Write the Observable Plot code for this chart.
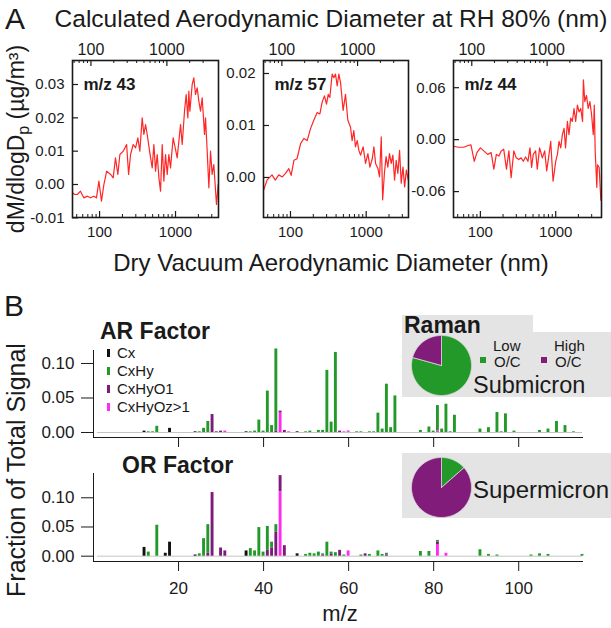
<!DOCTYPE html>
<html><head><meta charset="utf-8">
<script src="https://cdn.jsdelivr.net/npm/d3@7"></script>
<script src="https://cdn.jsdelivr.net/npm/@observablehq/plot@0.6"></script>
<style>
html,body{margin:0;padding:0;background:#fff;}
#chart{position:relative;width:611px;height:628px;overflow:hidden;font-family:"Liberation Sans",Arial,sans-serif;}
#chart svg{position:absolute;left:0;top:0;overflow:visible;}
</style></head><body><div id="chart"></div>
<script>
// ---------- Panel A data (dry vacuum aerodynamic diameter, nm ; dM/dlogDp, µg/m3) ----------
const m43Diam = [44,47,51,56,62,69,76,84,91,98,106,114,124,140,151,162,174,185,205,227,241,256,277,298,319,339,364,383,403,424,455,493,519,546,574,604,635,668,702,739,777,817,859,931,970,1052,1164,1224,1313,1381,1453,1497,1545,1657,1742,1833,1928,2028,2133,2244,2409,2483,2612,2748,2890,3037,3193,3460,3641];
const m43Val  = [-0.0025,-0.003,-0.003,-0.002,-0.004,-0.0035,-0.004,-0.0035,-0.004,0.001,-0.005,0.000,0.004,0.003,0.002,0.008,0.003,0.009,0.010,0.012,0.003,0.009,0.012,0.011,0.014,0.010,0.020,0.015,0.018,0.015,0.010,0.005,0.012,0.004,0.009,0.002,-0.002,0.012,0.001,0.009,0.003,0.009,0.005,0.014,0.012,0.008,0.018,0.012,0.022,0.027,0.020,0.028,0.022,0.030,0.032,0.027,0.029,0.025,0.022,0.026,0.015,0.020,0.010,-0.001,0.010,0.003,0.006,-0.006,0.000];
const m57Diam = [43.5,49,57,63,70,78,86,95,102,111,122,136,150,166,184,203,225,244,262,281,299,315,331,355,373,393,414,435,458,496,533,572,620,652,686,721,760,800,842,912,980,1053,1120,1203,1264,1330,1430,1500,1580,1650,1740,1830,1930,2030,2140,2250,2370,2490,2620,2760,2900,3060,3220,3390,3600];
const m57Val  = [-0.0027,-0.0005,0.0005,-0.0005,0.0005,0.0001,0.0008,0.0017,0.0004,0.0033,0.0036,0.0065,0.0075,0.0071,0.0094,0.011,0.0125,0.0122,0.0145,0.0157,0.0141,0.016,0.0154,0.0199,0.0192,0.0199,0.0176,0.0199,0.0183,0.0129,0.016,0.011,0.0097,0.0071,0.009,0.0059,0.0071,0.0052,0.0043,0.0059,0.0027,0.0046,0.002,0.0036,0.0059,0.0027,0.0017,0.0001,0.0078,-0.0043,0.0008,0.004,0.002,0.0046,0.0027,0.0043,-0.0005,0.0033,0.0008,0.0052,-0.0011,0.002,-0.0018,0.0014,-0.0005];
const m44Diam = [44,51,60,70,75,83,90,100,111,125,139,151,163,176,189,204,222,239,256,278,299,324,348,371,398,428,455,479,503,541,569,611,664,714,759,815,858,922,1000,1053,1106,1166,1225,1290,1350,1430,1500,1580,1660,1750,1840,1940,2040,2150,2270,2330,2430,2560,2700,2840,2990,3150,3250,3340,3510,3580,3770,3970];
const m44Val  = [-0.0076,-0.0088,-0.0088,-0.0065,-0.006,-0.025,-0.015,-0.0095,-0.013,-0.017,-0.015,-0.034,-0.017,-0.019,-0.013,-0.011,-0.034,-0.013,-0.044,-0.013,-0.021,-0.023,-0.021,-0.025,-0.02,-0.025,-0.0095,-0.032,-0.017,-0.013,-0.034,-0.0095,-0.021,-0.013,-0.036,-0.017,-0.002,-0.048,-0.025,-0.017,-0.002,-0.0095,0.0057,0.013,-0.0095,0.021,0.0057,0.025,0.021,0.036,0.021,0.04,0.032,0.036,0.021,0.069,0.044,0.051,0.036,0.044,0.029,0.0057,0.04,-0.013,-0.055,-0.029,-0.032,-0.07];
const m43Ticks = [-0.01,0.00,0.01,0.02,0.03];
const m57Ticks = [0.00,0.01,0.02];
const m44Ticks = [-0.06,0.00,0.06];
const diamTickLabels = [100,1000];
const diamMinor = [50,60,70,80,90,200,300,400,500,600,700,800,900,2000,3000];
const growthFactor = 1.3; // dry -> RH 80% diameter

// ---------- Panel B data ([m/z, fraction of total signal]) ----------
const arCx = [[12,0.002],[18,0.006],[24,0.001],[36,0.001],[48,0.001]];
const arCxHy = [[13,0.001],[14,0.001],[15,0.009],[25,0.001],[26,0.006],[27,0.016],[37,0.001],[38,0.002],[39,0.018],[40,0.002],[41,0.060],[42,0.010],[43,0.119],[50,0.001],[51,0.002],[53,0.003],[54,0.003],[55,0.090],[56,0.015],[57,0.116],[62,0.001],[63,0.001],[65,0.001],[66,0.001],[67,0.028],[68,0.005],[69,0.070],[70,0.007],[71,0.053],[77,0.003],[79,0.008],[80,0.002],[81,0.037],[82,0.005],[83,0.041],[84,0.001],[85,0.025],[91,0.005],[93,0.007],[95,0.029],[96,0.001],[97,0.027],[99,0.002],[105,0.003],[107,0.005],[109,0.016],[111,0.010],[113,0.001]];
const arCxHyO1 = [[28,0.026],[29,0.001],[30,0.002],[43,0.002],[44,0.003],[45,0.003],[58,0.002],[60,0.001]];
const arCxHyOz = [[31,0.002],[44,0.028],[46,0.001],[59,0.001],[60,0.001],[81,0.002]];
const orCx = [[12,0.015],[17,0.005],[18,0.024],[24,0.002],[36,0.009],[48,0.004]];
const orCxHy = [[13,0.007],[15,0.053],[25,0.004],[26,0.030],[27,0.049],[37,0.013],[38,0.009],[39,0.049],[40,0.007],[41,0.041],[42,0.010],[43,0.013],[50,0.003],[51,0.005],[52,0.004],[53,0.007],[54,0.002],[55,0.024],[56,0.004],[57,0.006],[59,0.002],[63,0.002],[65,0.003],[67,0.009],[68,0.003],[69,0.003],[77,0.008],[79,0.008],[81,0.003],[91,0.011],[93,0.003],[95,0.002],[103,0.002],[105,0.004],[107,0.003],[115,0.003]];
const orCxHyO1 = [[27,0.005],[28,0.109],[30,0.014],[31,0.009],[41,0.010],[42,0.014],[43,0.041],[44,0.028],[45,0.018],[54,0.002],[56,0.003],[58,0.010],[64,0.004],[69,0.002],[81,0.004]];
const orCxHyOz = [[44,0.110],[60,0.009],[81,0.020],[83,0.005]];
const mzTicks = [20,40,60,80,100];
const fracTicks = [0.00,0.05,0.10];
const familyNames = ["Cx","CxHy","CxHyO1","CxHyOz>1"];
const familyColors = ["#111111","#23992a","#7e1b7a","#ff2bf0"];

// ---------- Raman pies (Low O/C, High O/C) ----------
const ocLabels = ["Low O/C","High O/C"];
const submicronFrac = [0.793,0.207];
const supermicronFrac = [0.135,0.865];
const ocColors = ["#23992a","#821c7a"];

const chart = document.getElementById("chart");
const NS = "http://www.w3.org/2000/svg";
const FONT = '"Liberation Sans", Arial, sans-serif';
function layer(){const s=document.createElementNS(NS,"svg");s.setAttribute("width",611);s.setAttribute("height",628);chart.appendChild(s);return s;}
function rect(l,x,y,w,h,fill){const r=document.createElementNS(NS,"rect");r.setAttribute("x",x);r.setAttribute("y",y);r.setAttribute("width",w);r.setAttribute("height",h);r.setAttribute("fill",fill);l.appendChild(r);}
function txt(l,str,x,y,o={}){const t=document.createElementNS(NS,"text");t.setAttribute("font-family",FONT);t.setAttribute("font-size",o.size||16);t.setAttribute("fill","#1a1a1a");if(o.weight)t.setAttribute("font-weight",o.weight);t.setAttribute("text-anchor",o.anchor||"start");if(o.rotate)t.setAttribute("transform",`translate(${x},${y}) rotate(${o.rotate})`);else{t.setAttribute("x",x);t.setAttribute("y",y);}if(o.html)t.innerHTML=str;else t.textContent=str;l.appendChild(t);return t;}
const baseStyle = {background:"transparent",overflow:"visible",fontFamily:FONT,color:"#1a1a1a"};

// background boxes
const bg = layer();
rect(bg,402,315,131,18,"#e4e4e4");
rect(bg,402,332,209,65,"#e4e4e4");
rect(bg,402,453,209,65,"#e4e4e4");

// ---------- Panel A size distributions ----------
function sizePanel(diam, val, ticks, label, box, xDomain, yDomain){
  const [L,T,R,B] = box; const W=R-L, H=B-T;
  const data = diam.map((d,i)=>({d, v: val[i]}));
  const inX = v => v>=xDomain[0] && v<=xDomain[1];
  const topMajor = diamTickLabels.filter(v=>inX(v/growthFactor));
  const topMinor = diamMinor.filter(v=>inX(v/growthFactor));
  return Plot.plot({
    width:611, height:628, marginLeft:L, marginRight:611-R, marginTop:T, marginBottom:628-B,
    x:{type:"log", domain:xDomain, axis:null},
    y:{domain:yDomain, axis:null},
    style:{...baseStyle, fontSize:"15px"},
    marks:[
      Plot.line(data,{x:"d", y:"v", stroke:"#ff2626", strokeWidth:1.2, clip:true}),
      Plot.frame({stroke:"#1a1a1a", strokeWidth:1.6}),
      Plot.ruleY(ticks,{insetRight:W-6, stroke:"#1a1a1a", strokeWidth:1.2}),
      Plot.text(ticks,{y:d=>d, frameAnchor:"left", dx:-8, textAnchor:"end", text:d=>d.toFixed(2), fontSize:15}),
      Plot.ruleX(diamTickLabels.filter(inX),{insetTop:H-6, stroke:"#1a1a1a", strokeWidth:1.2}),
      Plot.ruleX(diamMinor.filter(inX),{insetTop:H-3, stroke:"#1a1a1a"}),
      Plot.text(diamTickLabels,{x:d=>d, frameAnchor:"bottom", dy:19, text:d=>String(d), fontSize:15}),
      Plot.ruleX(topMajor,{x:d=>d/growthFactor, insetBottom:H-6, stroke:"#1a1a1a", strokeWidth:1.2}),
      Plot.ruleX(topMinor,{x:d=>d/growthFactor, insetBottom:H-3, stroke:"#1a1a1a"}),
      Plot.text(topMajor,{x:d=>d/growthFactor, frameAnchor:"top", dy:-17, text:d=>String(d), fontSize:16}),
      Plot.text([label],{frameAnchor:"top-left", dx:11, dy:17, text:d=>d, fontWeight:"bold", fontSize:17, textAnchor:"start"})
    ]
  });
}
chart.appendChild(sizePanel(m43Diam,m43Val,m43Ticks,"m/z 43",[72,60,218,217],[44,3680],[-0.0099,0.0372]));
chart.appendChild(sizePanel(m57Diam,m57Val,m57Ticks,"m/z 57",[263,60,408,217],[44,3620],[-0.0077,0.0225]));
chart.appendChild(sizePanel(m44Diam,m44Val,m44Ticks,"m/z 44",[453,60,601,217],[44,4050],[-0.0899,0.0914]));

// ---------- Panel B bar spectra ----------
function stackRows(parts){
  const off=new Map(); const out=parts.map(()=>[]);
  // bottom -> top: CxHyOz>1, CxHyO1, CxHy, Cx
  [3,2,1,0].forEach(k=>{ for(const [m,v] of parts[k]){const y1=off.get(m)||0; out[k].push({m,y1,y2:y1+v}); off.set(m,y1+v);} });
  return out;
}
function barPanel(parts, top, bottom, yDomain, labels){
  const rows = stackRows(parts);
  return Plot.plot({
    width:611, height:628, marginLeft:93, marginRight:29, marginTop:top, marginBottom:628-bottom,
    x:{domain:[0,115], ticks:mzTicks, tickSize:10, tickPadding:10, line:true, label:null, tickFormat: labels ? (d=>String(d)) : (()=>"")},
    y:{domain:yDomain, ticks:fracTicks, tickSize:12, tickPadding:7, line:true, label:null, tickFormat:d=>d.toFixed(2)},
    style:{...baseStyle, fontSize:"17px"},
    marks:[
      Plot.ruleY([0],{stroke:"#c4c4c4", strokeWidth:1, insetLeft:4}),
      ...rows.map((r,k)=>Plot.rect(r,{x1:d=>d.m-0.34, x2:d=>d.m+0.34, y1:"y1", y2:"y2", fill:familyColors[k]}))
    ]
  });
}
chart.appendChild(barPanel([arCx,arCxHy,arCxHyO1,arCxHyOz],350,437,[-0.00725,0.1188],false));
chart.appendChild(barPanel([orCx,orCxHy,orCxHyO1,orCxHyOz],473,561,[-0.0091,0.1416],true));

// ---------- Pies ----------
function piePanel(fracs, cx, cy, r){
  const marks=[]; let a0=0;
  fracs.forEach((f,k)=>{
    const a1=a0+f*2*Math.PI; const n=Math.max(3,Math.ceil(f*160)); const pts=[{x:0,y:0}];
    for(let i=0;i<=n;i++){const a=a0+(a1-a0)*i/n; pts.push({x:Math.sin(a), y:Math.cos(a)});}
    pts.push({x:0,y:0});
    marks.push(Plot.line(pts,{x:"x", y:"y", fill:ocColors[k], stroke:"#d8d8d8", strokeWidth:0.8, curve:"linear"}));
    a0=a1;
  });
  return Plot.plot({
    width:611, height:628, marginLeft:cx-r, marginRight:611-(cx+r), marginTop:cy-r, marginBottom:628-(cy+r),
    x:{domain:[-1,1], axis:null}, y:{domain:[-1,1], axis:null},
    style:baseStyle, marks
  });
}
chart.appendChild(piePanel(submicronFrac,441,365,30));
chart.appendChild(piePanel(supermicronFrac,441,487,30));

// ---------- Text ----------
const fg = layer();
txt(fg,"A",5,29,{size:30});
txt(fg,"Calculated Aerodynamic Diameter at RH 80% (nm)",331,27,{size:24.5,anchor:"middle"});
txt(fg,"Dry Vacuum Aerodynamic Diameter (nm)",331,271,{size:24,anchor:"middle"});
txt(fg,'dM/dlogD<tspan font-size="16" dy="5">p</tspan><tspan dy="-5"> (µg/m³)</tspan>',24,139,{size:23,anchor:"middle",rotate:-90,html:true});
txt(fg,"B",4,316,{size:30});
txt(fg,"Fraction of Total Signal",25,470,{size:25,anchor:"middle",rotate:-90});
txt(fg,"m/z",340,621,{size:22,anchor:"middle"});
txt(fg,"AR Factor",100,339,{size:23,weight:"bold"});
txt(fg,"OR Factor",122,473,{size:23,weight:"bold"});
familyNames.forEach((nm,i)=>{const y=353+i*18; rect(fg,107,y-4,3,8,familyColors[i]); txt(fg,nm,117,y+5,{size:15});});
txt(fg,"Raman",404,333,{size:23,weight:"bold"});
rect(fg,480,357,6,6,ocColors[0]); rect(fg,541,357,6,6,ocColors[1]);
const [lo1,lo2]=ocLabels[0].split(" "), [hi1,hi2]=ocLabels[1].split(" ");
txt(fg,lo1,493,351,{size:15}); txt(fg,lo2,494,367,{size:15});
txt(fg,hi1,554,351,{size:15}); txt(fg,hi2,555,367,{size:15});
txt(fg,"Submicron",473,393,{size:23.5});
txt(fg,"Supermicron",473,498,{size:24});
</script></body></html>
